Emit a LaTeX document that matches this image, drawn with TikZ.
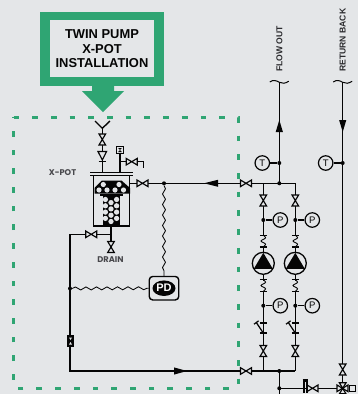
\documentclass[tikz,border=0pt]{standalone}
\usepackage{fontspec}
\setmainfont{Liberation Sans}
\newfontfamily\lblfont{Poppins}
\usetikzlibrary{decorations.pathmorphing,shapes.geometric}
\definecolor{bg}{HTML}{E4E6E8}
\definecolor{grn}{HTML}{2FA573}
\definecolor{ink}{HTML}{050505}
\definecolor{lbl}{HTML}{48484C}
\tikzset{
  pipe/.style={draw=ink,line width=1.4pt},
  wavy/.style={draw=ink,line width=.85pt,decorate,decoration={snake,amplitude=1.5pt,segment length=10.5pt}},
  gauge/.style={circle,draw=ink,line width=1.2pt,fill=bg,minimum size=14.5pt,inner sep=0pt,font=\fontsize{9.5}{9.5}\selectfont,text=ink},
  junct/.style={circle,fill=ink,inner sep=0pt,minimum size=4pt},
  tag/.style={font=\fontsize{8.3}{8.3}\lblfont\bfseries,text=lbl,inner sep=0pt},
  runlbl/.style={font=\fontsize{8.6}{8.6}\selectfont\bfseries,text=lbl!60!black,inner sep=0pt,rotate=90,anchor=west},
  bowtie/.pic={\draw[ink,line width=1.15pt,fill=bg,line join=miter] (-5.5,-3.3) -- (5.5,3.3) -- (5.5,-3.3) -- (-5.5,3.3) -- cycle;},
  flexj/.pic={
    \draw[ink,line width=1.4pt] (-3.5,-5.8) -- (3.5,-5.8) (-3.5,5.8) -- (3.5,5.8);
    \fill[bg] (-2.5,-5) rectangle (2.5,5);
    \draw[ink,line width=.9pt] (0,-5.8) .. controls (3,-3.5) and (3,-3) .. (0,-1.6) .. controls (-3,-.3) and (-3,.3) .. (0,1.6) .. controls (3,3) and (3,3.5) .. (0,5.8);},
  strainer/.pic={
    \draw[ink,line width=1.4pt] (-3.5,-5) -- (3.5,-5) (-3.5,5) -- (3.5,5);
    \draw[ink,line width=1.2pt] (0,5) -- (-7,-5.5) (-9.3,-3.8) -- (-4.7,-7.2);},
  pumpsym/.pic={
    \draw[ink,line width=1.3pt,fill=bg] (0,0) circle (11);
    \fill[ink] (0,-10.5) -- (9.5,5.5) -- (-9.5,5.5) -- cycle;},
  tilde/.pic={\draw[ink,line width=1pt] (-9.5,0) .. controls (-6,-2.5) and (-3,-1.5) .. (0,.3) .. controls (3,2) and (6,1.5) .. (9.5,-.8);},
}
\begin{document}
\begin{tikzpicture}[x=1pt,y=-1pt]
\useasboundingbox (0,0) rectangle (358,394);
\fill[bg] (0,0) rectangle (358,394);
\clip (0,0) rectangle (358,394);

% callout
\fill[grn] (40,12) rectangle (164,86);
\fill[bg] (50,20) rectangle (154,77);
\fill[grn] (92,86) -- (114,86) -- (114,91) -- (124,91) -- (103,112) -- (82,91) -- (92,91) -- cycle;
\node[font=\fontsize{12.9}{14.6}\selectfont\bfseries,align=center,text=ink,inner sep=0pt] (title) at (102,49) {TWIN PUMP\\X-POT\\INSTALLATION};

% dashed frame
\draw[grn,line width=3pt,dash pattern=on 5.7pt off 13pt] (13.5,117) -- (238,117) -- (238,388.5) -- (13.5,388.5) -- cycle;

% coordinates
\coordinate (ventY) at (102.3,128.3);
\coordinate (ventL) at (95,121);
\coordinate (ventR) at (110,121);
\coordinate (plateA) at (102.3,172);
\coordinate (plateB) at (120,172);
\coordinate (sq) at (120,150);
\coordinate (brR) at (143.3,161.7);
\coordinate (brE) at (143.3,168);
\coordinate (brJ) at (120,161.7);
\coordinate (potOut) at (129.3,183.3);
\coordinate (topM) at (279.3,183.3);
\coordinate (topR) at (295.3,183.3);
\coordinate (topLL) at (263.3,183.3);
\coordinate (flowTop) at (279.3,82);
\coordinate (retTop) at (342.7,82);
\coordinate (retBot) at (342.7,394);
\coordinate (potBot) at (111,226);
\coordinate (drainJ) at (111,234.3);
\coordinate (drainE) at (111,252);
\coordinate (cornerA) at (70,234.3);
\coordinate (cornerB) at (70,371);
\coordinate (botM) at (279.3,371);
\coordinate (botL) at (263.3,371);
\coordinate (botR) at (295.3,371);
\coordinate (lowEnd) at (279.3,394);
\coordinate (retJ) at (342.7,388.3);
\coordinate (lowJ) at (279.3,388.3);

% pipes
\draw[pipe] (ventY) -- (plateA);
\draw[pipe] (ventL) -- (ventY) -- (ventR);
\draw[pipe] (plateB) -- (sq);
\draw[pipe] (brJ) -- (brR) -- (brE);
\draw[pipe] (potOut) -- (topR);
\draw[pipe] (topLL) -- (botL);
\draw[pipe] (topR) -- (botR);
\draw[pipe] (flowTop) -- (topM);
\draw[pipe] (retTop) -- (retBot);
\draw[pipe] (potBot) -- (drainE);
\draw[pipe] (drainJ) -- (cornerA) -- (cornerB) -- (botR);
\draw[pipe] (botM) -- (lowEnd);
\draw[pipe] (lowJ) -- (retJ);

% arrows
\fill[ink] (279.3,120) -- (282.9,132) -- (275.7,132) -- cycle;
\fill[ink] (342.7,132) -- (346.3,120) -- (339.1,120) -- cycle;
\fill[ink] (204,183.3) -- (218,179.8) -- (218,186.8) -- cycle;
\fill[ink] (187,371) -- (174,367.4) -- (174,374.6) -- cycle;

% junctions
\node[junct] (j1) at (279.3,163) {};
\node[junct] (j2) at (342.7,163) {};
\node[junct] (j3) at (279.3,183.3) {};
\node[junct] (j4) at (164,183.3) {};
\node[junct] (j5) at (263.3,220) {};
\node[junct] (j6) at (295.3,220) {};
\node[junct] (j7) at (263.3,305.7) {};
\node[junct] (j8) at (295.3,305.7) {};
\node[junct] (j9) at (279.3,371) {};
\node[junct] (j10) at (279.3,388.3) {};
\node[junct] (j11) at (70,288.5) {};

% gauges
\node[gauge] (t1) at (262.3,163) {T};
\node[gauge] (t2) at (325.7,163) {T};
\node[gauge] (p1) at (280.3,220) {P};
\node[gauge] (p2) at (312.3,220) {P};
\node[gauge] (p3) at (280.3,305.7) {P};
\node[gauge] (p4) at (312.3,305.7) {P};
\draw[pipe] (t1) -- (j1);
\draw[pipe] (t2) -- (j2);
\draw[pipe] (p1) -- (j5);
\draw[pipe] (p2) -- (j6);
\draw[pipe] (p3) -- (j7);
\draw[pipe] (p4) -- (j8);

% valves
\pic[rotate=90] at (102.3,139.5) {bowtie};
\pic at (131.7,161.7) {bowtie};
\pic at (142.5,183.3) {bowtie};
\pic at (246,183.3) {bowtie};
\pic at (246,371) {bowtie};
\pic at (91.2,234.3) {bowtie};
\pic[rotate=90] at (111,247) {bowtie};
\pic[rotate=90] at (263.3,200.5) {bowtie};
\pic[rotate=90] at (295.3,200.5) {bowtie};
\pic[rotate=90] at (263.3,351) {bowtie};
\pic[rotate=90] at (295.3,351) {bowtie};
\pic[rotate=90] at (342.7,369.5) {bowtie};
\pic at (312.5,388.3) {bowtie};

% check valve on vent
\draw[ink,line width=1.15pt,fill=bg] (98,151.5) -- (106.6,151.5) -- (102.3,160) -- cycle;
\draw[ink,line width=1.4pt] (98.5,161.5) -- (106,161.5);

% gauge on X-pot
\node[draw=ink,line width=1.3pt,fill=bg,minimum size=7pt,inner sep=0pt] (sqbox) at (sq) {};
\fill[ink] (118.2,148) -- (121.8,148) -- (120,150) -- cycle (118.2,152) -- (121.8,152) -- (120,150) -- cycle;

% vessel
\draw[ink,line width=1.4pt] (90,172.2) -- (132.7,172.2) (90,175.6) -- (132.7,175.6);
\draw[ink,line width=1.4pt] (93.5,175.6) -- (93.5,226) -- (129.2,226) -- (129.2,175.6);
\fill[ink] (101.7,180.7) -- (121.7,180.7) -- (130,188) -- (130,193.5) -- (94.5,193.5) -- (94.5,188) -- cycle;
\fill[ink] (100,194.3) rectangle (123,196);
\fill[ink] (102.5,196) rectangle (119.5,225);
\foreach \x/\y in {103.3/184.5,119/184.5,99/190,107/190,115/190,123.5/190}
  \fill[bg] (\x,\y) circle (2.6);
\foreach \x in {105.4,116.6}
  \foreach \y in {199.5,205.8,212.1,218.4}
    \fill[bg] (\x,\y) circle (2.65);
\foreach \y in {202.6,208.9,215.2,221.5}
  \fill[bg] (111,\y) circle (2.65);

% PD
\node[draw=ink,line width=1.4pt,fill=bg,rounded corners=3.5pt,minimum width=29.5pt,minimum height=23.5pt,inner sep=0pt] (pd) at (164,288.2) {};
\node[fill=ink,ellipse,minimum width=23pt,minimum height=15.5pt,inner sep=0pt,text=white,font=\fontsize{11}{11}\selectfont\bfseries] (pdt) at (164,288.2) {PD};
\draw[wavy] (j4) -- (pd.north);
\draw[wavy] (j11) -- (pd.west);

% small in-line valve
\node[fill=ink,minimum width=7.5pt,minimum height=12.5pt,inner sep=0pt] (iv) at (70.5,341) {};
\fill[bg] (69,337.5) -- (72,337.5) -- (70.5,340) -- cycle (69,344.5) -- (72,344.5) -- (70.5,342) -- cycle;

% pumps and flex joints
\pic at (263.3,263.3) {pumpsym};
\pic at (295.3,263.3) {pumpsym};
\pic at (263.3,241) {flexj};
\pic at (295.3,241) {flexj};
\pic at (263.3,285.5) {flexj};
\pic at (295.3,285.5) {flexj};
\pic at (263.3,328) {strainer};
\pic at (295.3,328) {strainer};

% bottom return fittings
\draw[ink,line width=1.4pt] (303.8,381) -- (303.8,393) (306.8,381) -- (306.8,393);
\draw[ink,line width=2.2pt] (302.5,380.5) -- (308,380.5);
\draw[ink,line width=1.15pt,fill=bg] (337,385) -- (348,391.6) -- (348,385) -- (337,391.6) -- cycle;
\draw[ink,line width=1.15pt,fill=bg] (339.4,382.8) -- (346,393.8) -- (339.4,393.8) -- (346,382.8) -- cycle;
\node[draw=ink,line width=1.3pt,fill=bg,minimum size=6.5pt,inner sep=0pt] (sq2) at (352.5,388.5) {};

% tildes
\pic at (flowTop) {tilde};
\pic at (retTop) {tilde};

% labels
\node[tag] (xp) at (62.5,173) {X-POT};
\node[tag] (dr) at (110.5,260) {DRAIN};
\node[runlbl] (fo) at (279.3,72) {FLOW OUT};
\node[runlbl] (rb) at (342.7,72) {RETURN BACK};
\end{tikzpicture}
\end{document}
